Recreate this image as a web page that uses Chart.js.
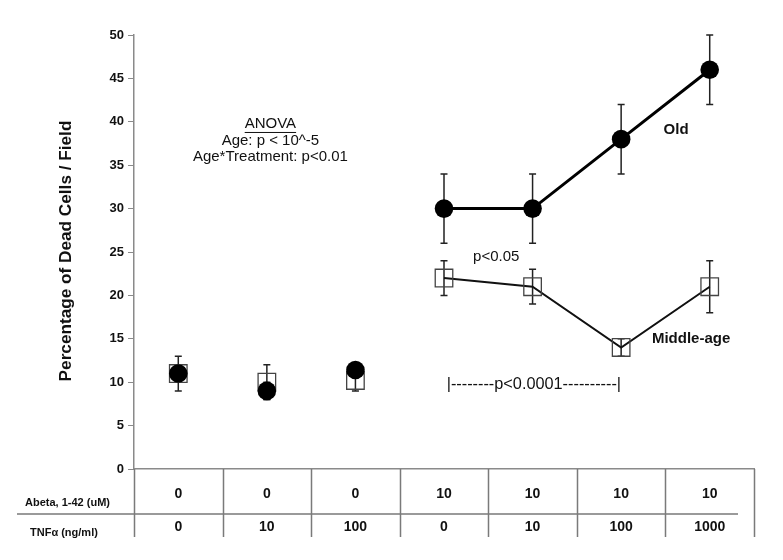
<!DOCTYPE html>
<html>
<head>
<meta charset="utf-8">
<script src="https://cdn.jsdelivr.net/npm/chart.js@4/dist/chart.umd.min.js"></script>
<style>html,body{margin:0;padding:0;background:#fff;}canvas{display:block;}</style>
</head>
<body>
<canvas id="c" width="783" height="560"></canvas>
<script>
// ---- data ----
const categories = ['1','2','3','4','5','6','7'];
const abetaLabels = ['0','0','0','10','10','10','10'];
const tnfLabels = ['0','10','100','0','10','100','1000'];
const oldValues = [11, 9, 11.4, 30, 30, 38, 46];
const oldErrors = [1, 1, 0.8, 4, 4, 4, 4];
const midValues = [11, 10, 10.2, 22, 21, 14, 21];
const midErrors = [2, 2, 1.2, 2, 2, 1, 3];
const yTicks = [0,5,10,15,20,25,30,35,40,45,50];
const rowLabels = ['Abeta, 1-42 (uM)', 'TNF\u03B1 (ng/ml)'];
const yTitle = 'Percentage of Dead Cells / Field';
const notes = [
  {text:'ANOVA', x:1.04, y:39.75, bold:false, size:15, align:'center', underline:true},
  {text:'Age: p < 10^-5', x:1.04, y:37.75, bold:false, size:15, align:'center'},
  {text:'Age*Treatment: p<0.01', x:1.04, y:36.0, bold:false, size:15, align:'center'},
  {text:'Old', x:5.62, y:39.05, bold:true, size:15, align:'center'},
  {text:'p<0.05', x:3.59, y:24.4, bold:false, size:15, align:'center'},
  {text:'Middle-age', x:5.79, y:14.98, bold:true, size:15, align:'center'},
  {text:'|--------p<0.0001----------|', x:3.03, y:9.68, bold:false, size:16.3, align:'left'}
];

const FONT = '"Liberation Sans", Arial, sans-serif';

function drawBars(chart, di) {
  const ctx = chart.ctx;
  const y = chart.scales.y;
  const ds = chart.data.datasets[di];
  const meta = chart.getDatasetMeta(di);
  ctx.save();
  ctx.strokeStyle = '#222';
  ctx.lineWidth = 1.5;
  meta.data.forEach((pt, i) => {
    const e = ds.errors[i];
    if (!e) return;
    const v = ds.data[i];
    const yt = y.getPixelForValue(v + e), yb = y.getPixelForValue(v - e);
    const x = pt.x;
    ctx.beginPath();
    ctx.moveTo(x, yt); ctx.lineTo(x, yb);
    ctx.moveTo(x - 3.5, yt); ctx.lineTo(x + 3.5, yt);
    ctx.moveTo(x - 3.5, yb); ctx.lineTo(x + 3.5, yb);
    ctx.stroke();
  });
  ctx.restore();
}

const errorBars = {
  id: 'errorBars',
  beforeDatasetsDraw(chart) {
    chart.data.datasets.forEach((ds, di) => drawBars(chart, di));
  }
};

const extras = {
  id: 'extras',
  afterDraw(chart) {
    const ctx = chart.ctx;
    const xs = chart.scales.x, ys = chart.scales.y;
    const ca = chart.chartArea;
    const step = (ca.right - ca.left) / categories.length;
    ctx.save();
    // table grid
    ctx.strokeStyle = '#7a7a7a';
    ctx.lineWidth = 1.5;
    ctx.beginPath();
    for (let k = 0; k <= categories.length; k++) {
      const x = Math.round(ca.left + k * step) + 0.5;
      ctx.moveTo(x, ca.bottom); ctx.lineTo(x, ca.bottom + 68);
    }
    ctx.moveTo(17, ca.bottom + 45); ctx.lineTo(ca.right - 16, ca.bottom + 45);
    ctx.stroke();
    // table values
    ctx.fillStyle = '#111';
    ctx.font = 'bold 14px ' + FONT;
    ctx.textAlign = 'center';
    ctx.textBaseline = 'middle';
    categories.forEach((c, i) => {
      const x = xs.getPixelForValue(i);
      ctx.fillText(abetaLabels[i], x, ca.bottom + 25);
      ctx.fillText(tnfLabels[i], x, ca.bottom + 58);
    });
    ctx.font = 'bold 11px ' + FONT;
    ctx.textAlign = 'left';
    ctx.fillText(rowLabels[0], 25, ca.bottom + 34);
    ctx.fillText(rowLabels[1], 30, ca.bottom + 64);
    // y title
    ctx.save();
    ctx.translate(66, 251);
    ctx.rotate(-Math.PI / 2);
    ctx.font = 'bold 17.2px ' + FONT;
    ctx.textAlign = 'center';
    ctx.fillText(yTitle, 0, 0);
    ctx.restore();
    // notes
    notes.forEach(n => {
      ctx.font = (n.bold ? 'bold ' : '') + n.size + 'px ' + FONT;
      ctx.textAlign = n.align;
      const x = xs.getPixelForValue(n.x);
      const y = ys.getPixelForValue(n.y);
      ctx.fillText(n.text, x, y);
      if (n.underline) {
        const w = ctx.measureText(n.text).width;
        ctx.lineWidth = 1;
        ctx.strokeStyle = '#111';
        ctx.beginPath();
        ctx.moveTo(x - w / 2, y + 8.5); ctx.lineTo(x + w / 2, y + 8.5);
        ctx.stroke();
      }
    });
    ctx.restore();
  }
};

new Chart(document.getElementById('c'), {
  type: 'line',
  data: {
    labels: categories,
    datasets: [
      {
        label: 'Middle-age',
        data: midValues,
        errors: midErrors,
        borderColor: '#111',
        borderWidth: 2,
        pointStyle: 'rect',
        pointRadius: 12.4,
        pointBorderWidth: 1.3,
        pointBorderColor: '#444',
        pointBackgroundColor: 'rgba(0,0,0,0)',
        segment: { borderColor: c => c.p0DataIndex < 3 ? 'rgba(0,0,0,0)' : '#111' },
        order: 2
      },
      {
        label: 'Old',
        data: oldValues,
        errors: oldErrors,
        borderColor: '#000',
        borderWidth: 3,
        pointStyle: 'circle',
        pointRadius: 9.3,
        pointBorderWidth: 0,
        pointBackgroundColor: '#000',
        segment: { borderColor: c => c.p0DataIndex < 3 ? 'rgba(0,0,0,0)' : '#000' },
        order: 1
      }
    ]
  },
  options: {
    responsive: false,
    animation: false,
    devicePixelRatio: 1,
    layout: { padding: { top: 35, right: 29, left: 0, bottom: 0 } },
    plugins: { legend: { display: false }, tooltip: { enabled: false } },
    scales: {
      x: {
        type: 'category',
        offset: true,
        grid: { display: false },
        ticks: { display: false },
        border: { display: true, color: '#8a8a8a', width: 1.5 },
        afterFit(s) { s.height = 91; }
      },
      y: {
        min: 0, max: 50,
        afterBuildTicks(s) { s.ticks = yTicks.map(v => ({ value: v })); },
        grid: { drawOnChartArea: false, drawTicks: true, tickLength: 6, color: '#8a8a8a', tickWidth: 1 },
        border: { display: true, color: '#8a8a8a', width: 1.5 },
        ticks: { padding: 4, color: '#111', font: { family: FONT, size: 13, weight: 'bold' } },
        afterFit(s) { s.width = 134; }
      }
    }
  },
  plugins: [errorBars, extras]
});
</script>
</body>
</html>
